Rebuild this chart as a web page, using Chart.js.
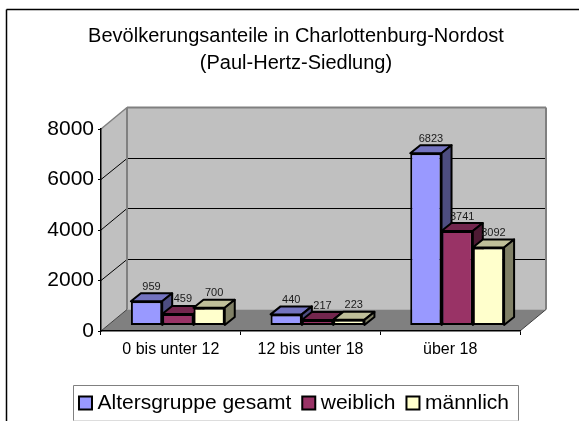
<!DOCTYPE html>
<html>
<head>
<meta charset="utf-8">
<style>
  body { margin: 0; background: #fff; }
</style>
<script src="https://cdn.jsdelivr.net/npm/chart.js@4/dist/chart.umd.min.js"></script>
</head>
<body>
<canvas id="chart" width="579" height="421"></canvas>
<script>
var categories = ['0 bis unter 12', '12 bis unter 18', 'über 18'];
var gesamt = [959, 440, 6823];
var weiblich = [459, 217, 3741];
var maennlich = [700, 223, 3092];
var seriesNames = ['Altersgruppe gesamt', 'weiblich', 'männlich'];
var titleLines = ['Bevölkerungsanteile in Charlottenburg-Nordost', '(Paul-Hertz-Siedlung)'];

var fronts = ['#9999FF', '#993366', '#FFFFCC'];
var tops = ['#7373BF', '#73264D', '#BFBF99'];
var sides = ['#4D4D80', '#4D1A33', '#808066'];

var FONT = '"Liberation Sans", Arial, sans-serif';
var WALL_DX = 26, WALL_DY = -21.5; // depth of the box
var BAR_DX = 7, BAR_DY = -5.5;     // bars stand a bit inside the floor
var DEPTH_X = 10, DEPTH_Y = -8;    // depth of a bar

function poly(ctx, pts, fill, stroke, width) {
    ctx.beginPath();
    ctx.moveTo(pts[0][0], pts[0][1]);
    for (var i = 1; i < pts.length; i++) ctx.lineTo(pts[i][0], pts[i][1]);
    ctx.closePath();
    if (fill) { ctx.fillStyle = fill; ctx.fill(); }
    if (stroke) { ctx.strokeStyle = stroke; ctx.lineWidth = width; ctx.stroke(); }
}

function line(ctx, x1, y1, x2, y2, color, width) {
    ctx.beginPath();
    ctx.moveTo(x1, y1);
    ctx.lineTo(x2, y2);
    ctx.strokeStyle = color;
    ctx.lineWidth = width;
    ctx.stroke();
}

var box3d = {
    id: 'box3d',
    afterLayout: function (chart) {
        // title and legend are centred on the canvas, not on the space left of the right padding
        chart.titleBlock.left += 36;
        chart.titleBlock.right += 36;
        chart.legend.left += 33.5;
        chart.legend.right += 33.5;
        chart.legend.top += 2.5;
        chart.legend.bottom += 2.5;
        chart.legend.adjustHitBoxes();
    },
    beforeDraw: function (chart) {
        var ctx = chart.ctx, a = chart.chartArea, y = chart.scales.y;
        ctx.save();

        // outer frame, only left and top are in the picture
        line(ctx, 6.5, 421, 6.5, 9.5, '#000', 1.5);
        line(ctx, 6.5, 9.5, 579, 9.5, '#000', 1.5);

        // walls and floor
        var l = a.left, r = a.right, t = a.top, b = a.bottom;
        poly(ctx, [[l, t], [l + WALL_DX, t + WALL_DY], [l + WALL_DX, b + WALL_DY], [l, b]], '#C0C0C0');
        poly(ctx, [[l + WALL_DX, t + WALL_DY], [r + WALL_DX, t + WALL_DY], [r + WALL_DX, b + WALL_DY], [l + WALL_DX, b + WALL_DY]], '#C0C0C0');
        poly(ctx, [[l, b], [r, b], [r + WALL_DX, b + WALL_DY], [l + WALL_DX, b + WALL_DY]], '#808080');

        y.ticks.forEach(function (tick) {
            if (tick.value === 0 || tick.value === y.max) return;
            var py = y.getPixelForValue(tick.value);
            var back = Math.floor(py + WALL_DY) + 0.5;
            line(ctx, l, py, l + WALL_DX, back, '#000', 1);
            line(ctx, l + WALL_DX, back, r + WALL_DX, back, '#000', 1);
        });

        line(ctx, l, t, l + WALL_DX, t + WALL_DY, '#808080', 1.5);
        line(ctx, l + WALL_DX, t + WALL_DY, r + WALL_DX, t + WALL_DY, '#808080', 2);
        line(ctx, l + WALL_DX, t + WALL_DY, l + WALL_DX, b + WALL_DY, '#808080', 2);
        line(ctx, r + WALL_DX, t + WALL_DY, r + WALL_DX, b + WALL_DY, '#808080', 2);
        line(ctx, l, b, l + WALL_DX, b + WALL_DY, '#404040', 1);
        line(ctx, r, b, r + WALL_DX, b + WALL_DY, '#404040', 1);

        // legend frame
        line(ctx, 73.5, 421, 73.5, 385.5, '#808080', 1);
        line(ctx, 73.5, 385.5, 518.5, 385.5, '#808080', 1);
        line(ctx, 518.5, 385.5, 518.5, 421, '#808080', 1);
        line(ctx, 73.5, 420.5, 518.5, 420.5, '#DDDDDD', 1);
        ctx.restore();
    },
    beforeDatasetsDraw: function (chart) {
        // left bar first, so each next bar covers the side of the one before it
        var ctx = chart.ctx;
        ctx.save();
        ctx.translate(BAR_DX, BAR_DY);
        ctx.lineJoin = 'round';
        chart.data.datasets.forEach(function (ds, i) {
            var meta = chart.getDatasetMeta(i);
            meta.data.forEach(function (bar) {
                var h = bar.width / 2, x1 = bar.x - h, x2 = bar.x + h;
                poly(ctx, [[x1, bar.y], [x2, bar.y], [x2 + DEPTH_X, bar.y + DEPTH_Y], [x1 + DEPTH_X, bar.y + DEPTH_Y]], tops[i], '#000', 2);
                poly(ctx, [[x2, bar.y], [x2 + DEPTH_X, bar.y + DEPTH_Y], [x2 + DEPTH_X, bar.base + DEPTH_Y], [x2, bar.base]], sides[i], '#000', 2);
            });
            meta.controller.draw();
        });
        ctx.restore();
    },
    beforeDatasetDraw: function () {
        return false;   // already drawn above
    },
    afterDatasetsDraw: function (chart) {
        var ctx = chart.ctx;
        ctx.save();
        ctx.font = '11px ' + FONT;
        ctx.fillStyle = '#1a1a1a';
        ctx.textAlign = 'center';
        ctx.textBaseline = 'middle';
        chart.data.datasets.forEach(function (ds, i) {
            chart.getDatasetMeta(i).data.forEach(function (bar, j) {
                ctx.fillText(ds.data[j], bar.x + BAR_DX + 5, bar.y + BAR_DY - 14.5);
            });
        });
        ctx.restore();
    },
    afterDraw: function (chart) {
        // legend squares: the library's gap between box and text is too wide for this font
        var ctx = chart.ctx, lg = chart.legend;
        ctx.save();
        lg.legendHitBoxes.forEach(function (hit, i) {
            ctx.fillStyle = fronts[i];
            ctx.strokeStyle = '#000';
            ctx.lineWidth = 2;
            ctx.fillRect(hit.left + 1, lg.top + 14, 13, 13);
            ctx.strokeRect(hit.left + 1, lg.top + 14, 13, 13);
        });
        ctx.restore();
    }
};

function makeSet(i, values) {
    return {
        label: seriesNames[i],
        data: values,
        backgroundColor: fronts[i],
        borderColor: '#000',
        borderWidth: 2,
        borderSkipped: false,
        categoryPercentage: 0.672,
        barPercentage: 1
    };
}

new Chart(document.getElementById('chart'), {
    type: 'bar',
    data: {
        labels: categories,
        datasets: [makeSet(0, gesamt), makeSet(1, weiblich), makeSet(2, maennlich)]
    },
    plugins: [box3d],
    options: {
        responsive: false,
        animation: false,
        layout: { padding: { left: 0, right: 59, top: 0, bottom: 0 } },
        plugins: {
            tooltip: { enabled: false },
            title: {
                display: true,
                text: titleLines,
                color: '#000',
                font: { family: FONT, size: 20, weight: 'normal', lineHeight: 1.35 },
                padding: { top: 22.5, bottom: 52.5 }
            },
            legend: {
                position: 'bottom',
                labels: {
                    color: '#000',
                    font: { family: FONT, size: 21 },
                    boxWidth: 9,
                    boxHeight: 1,
                    padding: 10,
                    generateLabels: function (chart) {
                        return chart.data.datasets.map(function (ds, i) {
                            return { text: ds.label, fillStyle: 'rgba(0,0,0,0)', strokeStyle: 'rgba(0,0,0,0)', lineWidth: 0, datasetIndex: i };
                        });
                    }
                }
            }
        },
        scales: {
            x: {
                afterFit: function (s) { s.height = 49; },
                grid: { drawOnChartArea: false, color: '#000', tickLength: 4, lineWidth: 1 },
                border: { display: true, color: '#000', width: 1.5 },
                ticks: { color: '#000', font: { family: FONT, size: 16 }, padding: 5, maxRotation: 0 }
            },
            y: {
                min: 0,
                max: 8000,
                afterFit: function (s) { s.width = 101; },
                grid: { drawOnChartArea: false, color: '#000', tickLength: 3, lineWidth: 1 },
                border: { display: true, color: '#000', width: 1.5 },
                ticks: {
                    stepSize: 2000,
                    color: '#000',
                    font: { family: FONT, size: 21 },
                    padding: 4,
                    callback: function (v) { return String(v); }
                }
            }
        }
    }
});
</script>
</body>
</html>
